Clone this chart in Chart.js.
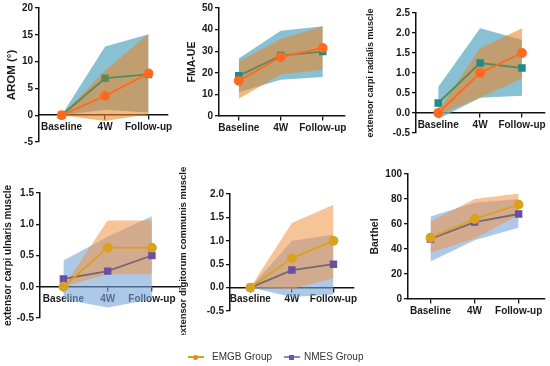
<!DOCTYPE html>
<html><head><meta charset="utf-8">
<script src="https://cdn.jsdelivr.net/npm/chart.js@4/dist/chart.umd.min.js"></script>
<style>
body{margin:0;width:550px;height:366px;background:#fff;position:relative;overflow:hidden;font-family:'Liberation Sans',Arial,sans-serif}
canvas{position:absolute}
.lg{position:absolute;font-size:10px;color:#333;line-height:12px;white-space:nowrap}
.mk{position:absolute;height:2px}
.dot{position:absolute}
</style></head><body>
<canvas id="c1"></canvas><canvas id="c2"></canvas><canvas id="c3"></canvas>
<canvas id="c4"></canvas><canvas id="c5"></canvas><canvas id="c6"></canvas>
<div id="legend"></div>
<script>
const categories = ['Baseline', '4W', 'Follow-up'];
const seriesNames = ['EMGB Group', 'NMES Group'];

// AROM
const aromEMGB = [0, 3.6, 7.8];
const aromNMES = [0, 6.9, 7.6];
const aromEMGBUpper = [0, 8.3, 15.2];
const aromEMGBLower = [0, -1.1, 0.2];
const aromNMESUpper = [0, 12.8, 15.1];
const aromNMESLower = [0, 1.0, 0.5];

// FMA-UE
const fmaEMGB = [16.3, 27.3, 31.5];
const fmaNMES = [18.6, 28.0, 29.8];
const fmaEMGBUpper = [25.4, 35.6, 41.6];
const fmaEMGBLower = [8, 19.2, 21.4];
const fmaNMESUpper = [26.6, 39.5, 41.6];
const fmaNMESLower = [11, 16.8, 18];

// extensor carpi radialis
const ecrEMGB = [0, 1.0, 1.5];
const ecrNMES = [0.25, 1.25, 1.125];
const ecrEMGBUpper = [0.05, 1.62, 2.12];
const ecrEMGBLower = [-0.05, 0.38, 0.86];
const ecrNMESUpper = [0.65, 2.12, 1.83];
const ecrNMESLower = [-0.15, 0.38, 0.43];

// extensor carpi ulnaris
const ecuEMGB = [0, 0.625, 0.625];
const ecuNMES = [0.125, 0.25, 0.5];
const ecuEMGBUpper = [0, 1.06, 1.06];
const ecuEMGBLower = [0, 0.2, 0.2];
const ecuNMESUpper = [0.42, 0.8, 1.13];
const ecuNMESLower = [-0.2, -0.33, -0.2];

// extensor digitorum communis
const edcEMGB = [0, 0.625, 1.0];
const edcNMES = [0, 0.375, 0.5];
const edcEMGBUpper = [0, 1.38, 1.77];
const edcEMGBLower = [0, -0.03, 0.2];
const edcNMESUpper = [0, 1.0, 1.13];
const edcNMESLower = [0, -0.2, -0.15];

// Barthel
const barEMGB = [49, 64, 75.5];
const barNMES = [48, 61.5, 68];
const barEMGBUpper = [62, 80, 84.5];
const barEMGBLower = [37, 48.5, 67];
const barNMESUpper = [66, 77, 80];
const barNMESLower = [30, 47, 57];

const topStyle = {eLine:'#FF6A1F', ePt:'#FF6A1F', nLine:'#5C8A58', nPt:'#5C8A58',
  eBand:'rgba(235,135,40,0.58)', nBand:'rgba(105,178,200,0.8)'};
const topStyle2 = Object.assign({}, topStyle, {nPt:'#1E8C8C'});
const botStyle = {eLine:'#D9A21E', ePt:'#D9A21E', nLine:'#7A6670', nPt:'#6A4FA0',
  eBand:'rgba(240,145,70,0.55)', nBand:'rgba(120,165,215,0.6)'};

const pts = a => a.map((v, i) => ({x: i, y: v}));
const FONT = "'Liberation Sans', Arial, sans-serif";

function panel(id, L, title, titleSize, yOpt, dec, e, n, eU, eL, nU, nL, st) {
  const cv = document.getElementById(id);
  const left = L.canvasLeft, top = L.canvasTop;
  const w = L.xEnd + L.padR - left, h = L.canvasBottom - top;
  cv.width = w; cv.height = h;
  cv.style.left = left + 'px'; cv.style.top = top + 'px';
  const W = L.axisX - left;
  const band = (d, fill, col, ord) => ({data: pts(d), borderWidth: 0, borderColor: 'rgba(0,0,0,0)',
    pointRadius: 0, fill: fill, backgroundColor: col, order: ord, tension: 0});
  new Chart(cv, {
    type: 'line',
    data: {datasets: [
      {label: seriesNames[0], data: pts(e), borderColor: st.eLine, backgroundColor: st.ePt,
       pointBackgroundColor: st.ePt, pointBorderColor: st.ePt, pointStyle: 'circle', pointRadius: 4,
       borderWidth: 1.8, fill: false, order: 0, tension: 0},
      {label: seriesNames[1], data: pts(n), borderColor: st.nLine, backgroundColor: st.nPt,
       pointBackgroundColor: st.nPt, pointBorderColor: st.nPt, pointStyle: 'rect', pointRadius: 4,
       borderWidth: 1.8, fill: false, order: 1, tension: 0},
      band(eL, false, 'rgba(0,0,0,0)', 2),
      band(eU, '-1', st.eBand, 2),
      band(nL, false, 'rgba(0,0,0,0)', 3),
      band(nU, '-1', st.nBand, 3)
    ]},
    options: {
      responsive: false, animation: false, devicePixelRatio: 1,
      layout: {padding: {left: 0, top: L.yTop - top, right: L.padR, bottom: L.canvasBottom - L.yBot}},
      plugins: {legend: {display: false}, tooltip: {enabled: false}},
      scales: {
        x: {type: 'linear', position: {y: 0}, min: L.xMin, max: L.xMax,
          afterBuildTicks: s => { s.ticks = categories.map((_, i) => ({value: i})); },
          grid: {drawOnChartArea: false, drawTicks: true, tickLength: 4, color: '#111', lineWidth: 1.3},
          border: {display: true, color: '#111', width: 1.5},
          ticks: {callback: v => categories[v], font: {family: FONT, size: 10, weight: 'bold'}, color: '#1a1a1a',
            padding: 2, maxRotation: 0, autoSkip: false}
        },
        y: {type: 'linear', min: yOpt.min, max: yOpt.max,
          afterFit: s => { s.width = W; },
          grid: {drawOnChartArea: false, drawTicks: true, tickLength: 4, color: '#111', lineWidth: 1.3},
          border: {display: true, color: '#111', width: 1.5},
          ticks: {stepSize: yOpt.step, callback: v => v.toFixed(dec), font: {family: FONT, size: 10, weight: 'bold'},
            color: '#1a1a1a', padding: 2},
          title: {display: true, text: title, font: {family: FONT, size: titleSize, weight: 'bold'}, color: '#1a1a1a',
            padding: {top: L.titlePad, bottom: 0}}
        }
      }
    }
  });
}

panel('c1', {canvasLeft:0, canvasTop:0, canvasBottom:150, axisX:39, xEnd:172, padR:3, yTop:8, yBot:142, xMin:-0.52, xMax:2.43, titlePad:5},
  'AROM (°)', 11.5, {min:-5, max:20, step:5}, 0, aromEMGB, aromNMES, aromEMGBUpper, aromEMGBLower, aromNMESUpper, aromNMESLower, topStyle);
panel('c2', {canvasLeft:180, canvasTop:0, canvasBottom:150, axisX:219, xEnd:347, padR:3, yTop:5, yBot:116, xMin:-0.47, xMax:2.51, titlePad:5.5},
  'FMA-UE', 10.5, {min:0, max:50, step:10}, 0, fmaEMGB, fmaNMES, fmaEMGBUpper, fmaEMGBLower, fmaNMESUpper, fmaNMESLower, topStyle2);
panel('c3', {canvasLeft:365, canvasTop:0, canvasBottom:150, axisX:416, xEnd:549, padR:1, yTop:13, yBot:133, xMin:-0.53, xMax:2.53, titlePad:0.6},
  'extensor carpi radialis muscle', 9, {min:-0.5, max:2.5, step:0.5}, 1, ecrEMGB, ecrNMES, ecrEMGBUpper, ecrEMGBLower, ecrNMESUpper, ecrNMESLower, topStyle2);
panel('c4', {canvasLeft:0, canvasTop:160, canvasBottom:335, axisX:40, xEnd:183, padR:3, yTop:193, yBot:318, xMin:-0.53, xMax:2.64, titlePad:2},
  'extensor carpi ulnaris muscle', 10, {min:-0.5, max:1.5, step:0.5}, 1, ecuEMGB, ecuNMES, ecuEMGBUpper, ecuEMGBLower, ecuNMESUpper, ecuNMESLower, botStyle);
panel('c5', {canvasLeft:177, canvasTop:160, canvasBottom:335, axisX:230, xEnd:357, padR:3, yTop:194, yBot:311, xMin:-0.49, xMax:2.49, titlePad:0.3},
  'extensor digitorum communis muscle', 9.5, {min:-0.5, max:2.0, step:0.5}, 1, edcEMGB, edcNMES, edcEMGBUpper, edcEMGBLower, edcNMESUpper, edcNMESLower, botStyle);
panel('c6', {canvasLeft:365, canvasTop:160, canvasBottom:335, axisX:408, xEnd:547, padR:3, yTop:174, yBot:299, xMin:-0.51, xMax:2.58, titlePad:4},
  'Barthel', 10.5, {min:0, max:100, step:20}, 0, barEMGB, barNMES, barEMGBUpper, barEMGBLower, barNMESUpper, barNMESLower, botStyle);

// legend
const lg = document.getElementById('legend');
const legendItems = [
  {name: seriesNames[0], line: '#D9A21E', mark: '#E08A1E', round: true, x: 188, tx: 212},
  {name: seriesNames[1], line: '#7F8CC8', mark: '#5E5EA8', round: false, x: 284, tx: 304}
];
legendItems.forEach(it => {
  const m = document.createElement('div'); m.className = 'mk';
  m.style.cssText = `left:${it.x}px;top:356px;width:16px;background:${it.line}`; lg.appendChild(m);
  const d = document.createElement('div'); d.className = 'dot';
  d.style.cssText = `left:${it.x + 5}px;top:354.5px;width:5px;height:5px;background:${it.mark};border-radius:${it.round ? '50%' : '0'}`;
  lg.appendChild(d);
  const t = document.createElement('div'); t.className = 'lg'; t.textContent = it.name;
  t.style.cssText = `left:${it.tx}px;top:351px`; lg.appendChild(t);
});
</script>
</body></html>
